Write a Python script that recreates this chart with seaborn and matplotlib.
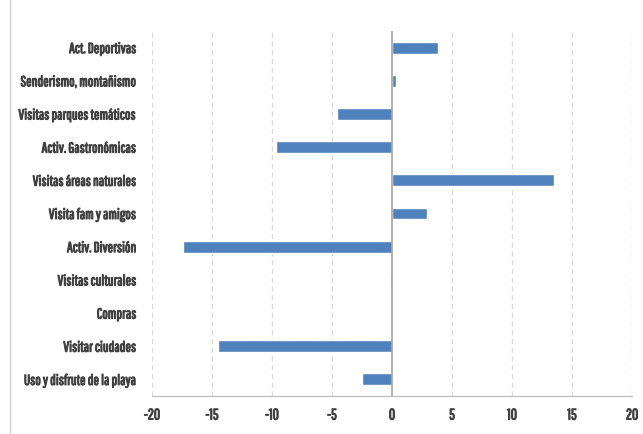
import pandas as pd
import numpy as np
import matplotlib
matplotlib.use("Agg")
import matplotlib.pyplot as plt
import matplotlib.patheffects as pe
import seaborn as sns
from matplotlib.patches import Rectangle

# ---------------- DATA ----------------
categories = [
    "Act. Deportivas",
    "Senderismo, montañismo",
    "Visitas parques temáticos",
    "Activ. Gastronómicas",
    "Visitas áreas naturales",
    "Visita fam y amigos",
    "Activ. Diversión",
    "Visitas culturales",
    "Compras",
    "Visitar ciudades",
    "Uso y disfrute de la playa",
]
values = [3.8, 0.3, -4.6, -9.7, 13.5, 2.9, -17.4, -0.2, -0.05, -14.5, -2.5]
x_ticks = [-20, -15, -10, -5, 0, 5, 10, 15, 20]

df = pd.DataFrame({"categoria": categories, "valor": values})

# ---------------- STYLE ----------------
sns.set_theme(style="white")
plt.rcParams["font.family"] = ["Pathway Gothic One", "DejaVu Sans"]
text_color = "#404040"

fig = plt.figure(figsize=(6.43, 4.34), dpi=100)
ax = fig.add_axes([152 / 643, 1 - 396 / 434, 480 / 643, 365 / 434])

sns.barplot(data=df, x="valor", y="categoria", orient="h", color="#4F81BD",
            saturation=1, width=0.36, ax=ax)

ax.set_xlim(-20, 20)
ax.set_xticks(x_ticks)
ax.set_xticklabels([str(t) for t in x_ticks])
ax.set_xlabel("")
ax.set_ylabel("")

# dashed grid
for t in x_ticks:
    if t != 0:
        ax.axvline(t, color="#D9D9D9", lw=0.9, ls=(0, (4, 3)), zorder=0)
ax.axvline(0, color="#A6A6A6", lw=1.2, zorder=3)

for s in ["top", "right", "left"]:
    ax.spines[s].set_visible(False)
ax.spines["bottom"].set_color("#BFBFBF")
ax.spines["bottom"].set_linewidth(0.9)

ax.tick_params(axis="y", length=0, pad=11, labelsize=10.5, colors=text_color)
ax.tick_params(axis="x", length=0, pad=9, labelsize=11, colors=text_color)

# condensed font only has a regular weight -> thicken with a stroke
for lbl in ax.get_xticklabels() + ax.get_yticklabels():
    lbl.set_path_effects([pe.withStroke(linewidth=0.7, foreground=text_color)])

# outer chart border
fig.patches.append(Rectangle((10 / 643, -0.01), 1.0, 1.05, transform=fig.transFigure,
                             fill=False, edgecolor="#D0D0D0", lw=1.0))

fig.savefig("out.png", dpi=100)
